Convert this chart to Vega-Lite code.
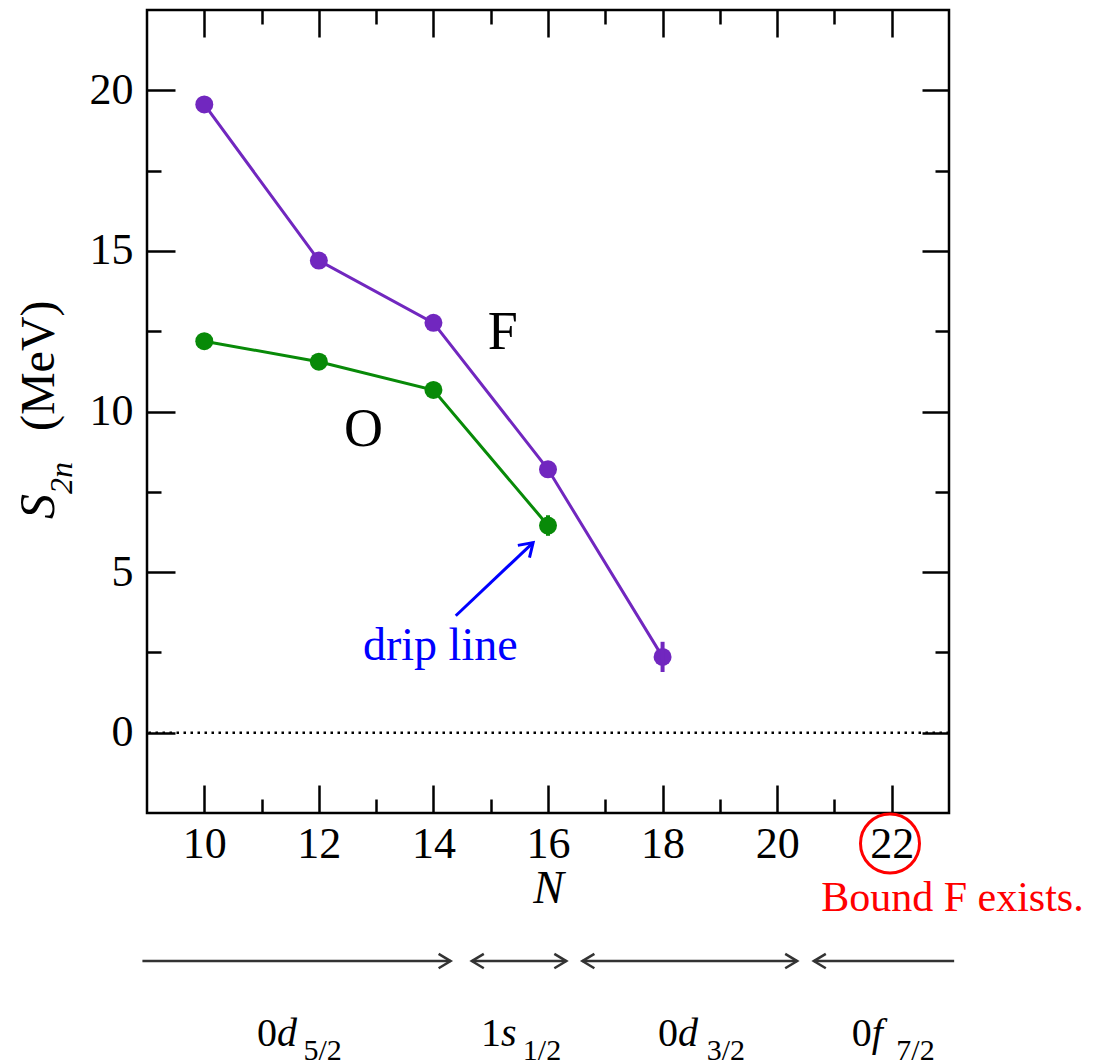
{
  "$schema": "https://vega.github.io/schema/vega-lite/v6.json",
  "width": 802,
  "height": 803,
  "autosize": {"type": "none"},
  "padding": {"left": 147, "top": 10, "right": 157, "bottom": 251},
  "background": "white",
  "config": {
    "view": {"stroke": "black", "strokeWidth": 2.5},
    "font": "Liberation Serif",
    "text": {"font": "Liberation Serif"}
  },
  "data": {"values": [{}]},
  "datasets": {
    "series": [
      {"nucleus": "F", "N": 10, "S2n": 19.56},
      {"nucleus": "F", "N": 12, "S2n": 14.7},
      {"nucleus": "F", "N": 14, "S2n": 12.76},
      {"nucleus": "F", "N": 16, "S2n": 8.2},
      {"nucleus": "F", "N": 18, "S2n": 2.36, "lo": 1.89, "hi": 2.83},
      {"nucleus": "O", "N": 10, "S2n": 12.19},
      {"nucleus": "O", "N": 12, "S2n": 11.55},
      {"nucleus": "O", "N": 14, "S2n": 10.67},
      {"nucleus": "O", "N": 16, "S2n": 6.45, "lo": 6.13, "hi": 6.77}
    ],
    "names": [
      {"label": "F", "N": 15.21, "S2n": 11.94},
      {"label": "O", "N": 12.78, "S2n": 8.93}
    ],
    "spans": [
      {"start": 8.92, "end": 14.3},
      {"start": 14.67, "end": 16.32},
      {"start": 16.6, "end": 20.35},
      {"start": 20.64, "end": 23.09}
    ],
    "heads": [
      {"at": 14.3, "dir": "right"},
      {"at": 14.67, "dir": "left"},
      {"at": 16.32, "dir": "right"},
      {"at": 16.6, "dir": "left"},
      {"at": 20.35, "dir": "right"},
      {"at": 20.64, "dir": "left"}
    ],
    "shells": [
      {"pre": "0", "orb": "d", "j": "5/2", "at": 11.27, "jat": 11.73},
      {"pre": "1", "orb": "s", "j": "1/2", "at": 15.18, "jat": 15.56},
      {"pre": "0", "orb": "d", "j": "3/2", "at": 18.27, "jat": 18.77},
      {"pre": "0", "orb": "f", "j": "7/2", "at": 21.65, "jat": 22.08}
    ]
  },
  "resolve": {"axis": {"x": "independent", "y": "independent"}},
  "layer": [
    {
      "mark": {"type": "rule", "color": "black", "strokeWidth": 2.5, "strokeDash": [2.5, 4.5]},
      "encoding": {
        "y": {"datum": 0, "type": "quantitative", "scale": {"domain": [-2.5, 22.5], "nice": false, "zero": false}, "axis": null}
      }
    },
    {
      "data": {"name": "series"},
      "mark": {"type": "line", "strokeWidth": 3},
      "encoding": {
        "x": {"field": "N", "type": "quantitative", "scale": {"domain": [9, 23], "nice": false, "zero": false},
          "axis": {"orient": "bottom", "values": [10, 12, 14, 16, 18, 20, 22], "tickSize": -28, "tickWidth": 2.5, "tickColor": "black", "domain": false, "grid": false,
            "labelFont": "Liberation Serif", "labelFontSize": 44, "labelColor": "black", "labelPadding": 37, "labelFlush": false, "labelOverlap": false,
            "title": "N", "titleFont": "Liberation Serif", "titleFontStyle": "italic", "titleFontWeight": "normal", "titleFontSize": 46, "titleColor": "black", "titleBaseline": "alphabetic", "titleY": 89}},
        "y": {"field": "S2n", "type": "quantitative", "scale": {"domain": [-2.5, 22.5], "nice": false, "zero": false},
          "axis": {"orient": "left", "values": [0, 5, 10, 15, 20], "tickSize": -28, "tickWidth": 2.5, "tickColor": "black", "domain": false, "grid": false,
            "labelFont": "Liberation Serif", "labelFontSize": 44, "labelColor": "black", "labelPadding": 42, "labelFlush": false, "labelOverlap": false, "title": null}},
        "color": {"field": "nucleus", "type": "nominal", "scale": {"domain": ["F", "O"], "range": ["#7127bf", "#088a08"]}, "legend": null}
      }
    },
    {
      "data": {"name": "series"},
      "mark": {"type": "point", "filled": true, "size": 324, "opacity": 1},
      "encoding": {
        "x": {"field": "N", "type": "quantitative", "scale": {"domain": [9, 23], "nice": false, "zero": false},
          "axis": {"orient": "bottom", "values": [11, 13, 15, 17, 19, 21], "tickSize": -14, "tickWidth": 2.5, "tickColor": "black", "domain": false, "grid": false, "labels": false, "title": null}},
        "y": {"field": "S2n", "type": "quantitative", "scale": {"domain": [-2.5, 22.5], "nice": false, "zero": false},
          "axis": {"orient": "left", "values": [2.5, 7.5, 12.5, 17.5], "tickSize": -14, "tickWidth": 2.5, "tickColor": "black", "domain": false, "grid": false, "labels": false, "title": null}},
        "color": {"field": "nucleus", "type": "nominal", "scale": {"domain": ["F", "O"], "range": ["#7127bf", "#088a08"]}, "legend": null}
      }
    },
    {
      "data": {"name": "series"},
      "transform": [{"filter": "isValid(datum.lo)"}],
      "mark": {"type": "rule", "strokeWidth": 4},
      "encoding": {
        "x": {"field": "N", "type": "quantitative", "scale": {"domain": [9, 23], "nice": false, "zero": false},
          "axis": {"orient": "top", "values": [10, 12, 14, 16, 18, 20, 22], "tickSize": -27, "tickWidth": 2.5, "tickColor": "black", "domain": false, "grid": false, "labels": false, "title": null}},
        "y": {"field": "lo", "type": "quantitative", "scale": {"domain": [-2.5, 22.5], "nice": false, "zero": false},
          "axis": {"orient": "right", "values": [0, 5, 10, 15, 20], "tickSize": -27, "tickWidth": 2.5, "tickColor": "black", "domain": false, "grid": false, "labels": false, "title": null}},
        "y2": {"field": "hi"},
        "color": {"field": "nucleus", "type": "nominal", "scale": {"domain": ["F", "O"], "range": ["#7127bf", "#088a08"]}, "legend": null}
      }
    },
    {
      "data": {"name": "names"},
      "mark": {"type": "text", "fontSize": 54, "align": "center", "baseline": "alphabetic", "color": "black", "font": "Liberation Serif"},
      "encoding": {
        "x": {"field": "N", "type": "quantitative", "scale": {"domain": [9, 23], "nice": false, "zero": false},
          "axis": {"orient": "top", "values": [11, 13, 15, 17, 19, 21], "tickSize": -14, "tickWidth": 2.5, "tickColor": "black", "domain": false, "grid": false, "labels": false, "title": null}},
        "y": {"field": "S2n", "type": "quantitative", "scale": {"domain": [-2.5, 22.5], "nice": false, "zero": false},
          "axis": {"orient": "right", "values": [2.5, 7.5, 12.5, 17.5], "tickSize": -14, "tickWidth": 2.5, "tickColor": "black", "domain": false, "grid": false, "labels": false, "title": null}},
        "text": {"field": "label"}
      }
    },
    {
      "mark": {"type": "rule", "color": "#0000ff", "strokeWidth": 3},
      "encoding": {
        "x": {"datum": 14.39, "type": "quantitative", "axis": null},
        "y": {"datum": 3.64, "type": "quantitative", "axis": null},
        "x2": {"datum": 15.74},
        "y2": {"datum": 5.92}
      }
    },
    {
      "mark": {"type": "point", "shape": "M-1,-0.65L0,0L-1,0.65", "filled": false, "stroke": "#0000ff", "strokeWidth": 3, "size": 676, "angle": 316.5, "opacity": 1},
      "encoding": {
        "x": {"datum": 15.74, "type": "quantitative", "axis": null},
        "y": {"datum": 5.92, "type": "quantitative", "axis": null}
      }
    },
    {
      "mark": {"type": "text", "text": "drip line", "fontSize": 46, "align": "center", "baseline": "alphabetic", "color": "#0000ff", "font": "Liberation Serif"},
      "encoding": {
        "x": {"datum": 14.12, "type": "quantitative", "axis": null},
        "y": {"datum": 2.27, "type": "quantitative", "axis": null}
      }
    },
    {
      "mark": {"type": "point", "shape": "circle", "filled": false, "stroke": "#ff0000", "strokeWidth": 3, "size": 3481, "opacity": 1},
      "encoding": {
        "x": {"datum": 21.97, "type": "quantitative", "axis": null},
        "y": {"datum": -3.45, "type": "quantitative", "axis": null}
      }
    },
    {
      "mark": {"type": "text", "text": "Bound F exists.", "fontSize": 42, "align": "center", "baseline": "alphabetic", "color": "#ff0000", "font": "Liberation Serif"},
      "encoding": {
        "x": {"datum": 23.06, "type": "quantitative", "axis": null},
        "y": {"datum": -5.54, "type": "quantitative", "axis": null}
      }
    },
    {
      "mark": {"type": "text", "text": "S", "fontSize": 50, "fontStyle": "italic", "align": "right", "baseline": "alphabetic", "angle": 270, "color": "black", "font": "Liberation Serif"},
      "encoding": {
        "x": {"datum": 7.38, "type": "quantitative", "axis": null},
        "y": {"datum": 7.43, "type": "quantitative", "axis": null}
      }
    },
    {
      "mark": {"type": "text", "text": "2n", "fontSize": 32, "fontStyle": "italic", "align": "left", "baseline": "alphabetic", "angle": 270, "dy": 18, "color": "black", "font": "Liberation Serif"},
      "encoding": {
        "x": {"datum": 7.38, "type": "quantitative", "axis": null},
        "y": {"datum": 7.43, "type": "quantitative", "axis": null}
      }
    },
    {
      "mark": {"type": "text", "text": "(MeV)", "fontSize": 48, "align": "left", "baseline": "alphabetic", "angle": 270, "dx": 63, "color": "black", "font": "Liberation Serif"},
      "encoding": {
        "x": {"datum": 7.38, "type": "quantitative", "axis": null},
        "y": {"datum": 7.43, "type": "quantitative", "axis": null}
      }
    },
    {
      "data": {"name": "spans"},
      "mark": {"type": "rule", "color": "#333333", "strokeWidth": 2.5},
      "encoding": {
        "x": {"field": "start", "type": "quantitative", "axis": null},
        "x2": {"field": "end"},
        "y": {"datum": -7.11, "type": "quantitative", "axis": null}
      }
    },
    {
      "data": {"name": "heads"},
      "mark": {"type": "point", "filled": false, "stroke": "#333333", "strokeWidth": 2.5, "size": 576, "opacity": 1},
      "encoding": {
        "x": {"field": "at", "type": "quantitative", "axis": null},
        "y": {"datum": -7.11, "type": "quantitative", "axis": null},
        "shape": {"field": "dir", "type": "nominal", "scale": {"domain": ["right", "left"], "range": ["M-1,-0.6L0,0L-1,0.6", "M1,-0.6L0,0L1,0.6"]}, "legend": null}
      }
    },
    {
      "data": {"name": "shells"},
      "mark": {"type": "text", "fontSize": 40, "align": "right", "baseline": "alphabetic", "color": "black", "font": "Liberation Serif"},
      "encoding": {
        "x": {"field": "at", "type": "quantitative", "axis": null},
        "y": {"datum": -9.74, "type": "quantitative", "axis": null},
        "text": {"field": "pre"}
      }
    },
    {
      "data": {"name": "shells"},
      "mark": {"type": "text", "fontSize": 40, "fontStyle": "italic", "align": "left", "baseline": "alphabetic", "color": "black", "font": "Liberation Serif"},
      "encoding": {
        "x": {"field": "at", "type": "quantitative", "axis": null},
        "y": {"datum": -9.74, "type": "quantitative", "axis": null},
        "text": {"field": "orb"}
      }
    },
    {
      "data": {"name": "shells"},
      "mark": {"type": "text", "fontSize": 30, "align": "left", "baseline": "alphabetic", "color": "black", "font": "Liberation Serif"},
      "encoding": {
        "x": {"field": "jat", "type": "quantitative", "axis": null},
        "y": {"datum": -10.2, "type": "quantitative", "axis": null},
        "text": {"field": "j"}
      }
    }
  ]
}
